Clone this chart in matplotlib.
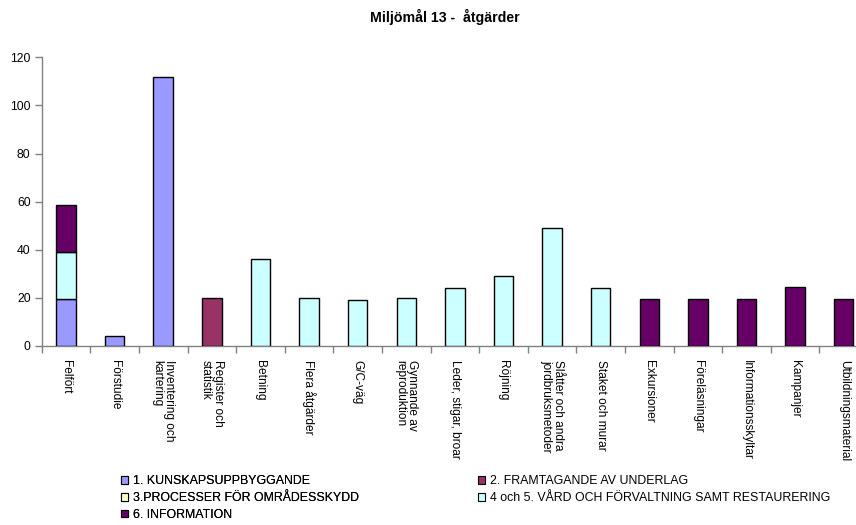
import matplotlib
matplotlib.use("Agg")
import matplotlib.pyplot as plt
from matplotlib.patches import Patch
import numpy as np

plt.rcParams['font.family'] = ['Liberation Sans', 'DejaVu Sans']

title = "Miljömål 13 -  åtgärder"

categories = [
    "Felfört", "Förstudie", "Inventering och\nkartering", "Register och\nstatistik",
    "Betning", "Flera åtgärder", "G/C-väg", "Gynnande av\nreproduktion",
    "Leder, stigar, broar", "Röjning", "Slåtter och andra\njordbruksmetoder",
    "Staket och murar", "Exkursioner", "Föreläsningar", "Informationsskyltar",
    "Kampanjer", "Utbildningsmaterial",
]

series_names = [
    "1. KUNSKAPSUPPBYGGANDE",
    "2. FRAMTAGANDE AV UNDERLAG",
    "3.PROCESSER FÖR OMRÅDESSKYDD",
    "4 och 5. VÅRD OCH FÖRVALTNING SAMT RESTAURERING",
    "6. INFORMATION",
]

kunskap   = [19.5, 4, 112, 0, 0, 0, 0, 0, 0, 0, 0, 0, 0, 0, 0, 0, 0]
underlag  = [0, 0, 0, 20, 0, 0, 0, 0, 0, 0, 0, 0, 0, 0, 0, 0, 0]
processer = [0, 0, 0, 0, 0, 0, 0, 0, 0, 0, 0, 0, 0, 0, 0, 0, 0]
vard      = [19.5, 0, 0, 0, 36, 20, 19, 20, 24, 29, 49, 24, 0, 0, 0, 0, 0]
info      = [19.5, 0, 0, 0, 0, 0, 0, 0, 0, 0, 0, 0, 19.5, 19.5, 19.5, 24.5, 19.5]

series_values = [kunskap, underlag, processer, vard, info]
colors = ["#9999FF", "#993366", "#FFFFCC", "#CCFFFF", "#660066"]

yticks = [0, 20, 40, 60, 80, 100, 120]

W, H = 856, 525
fig = plt.figure(figsize=(W / 100, H / 100), dpi=100)
ax_left, ax_right = 41.7, 868.0
ax_top, ax_bottom = 57.3, 346.0
ax = fig.add_axes([ax_left / W, 1 - ax_bottom / H,
                   (ax_right - ax_left) / W, (ax_bottom - ax_top) / H])

x = np.arange(len(categories))
bottom = np.zeros(len(categories))
for name, vals, col in zip(series_names, series_values, colors):
    v = np.array(vals, dtype=float)
    mask = v > 0
    ax.bar(x[mask], v[mask], width=0.4, bottom=bottom[mask], color=col,
           edgecolor="black", linewidth=1.0, zorder=3)
    bottom += v

ax.set_xlim(-0.5, len(categories) - 0.5)
ax.set_ylim(0, 120)
ax.set_yticks(yticks)
ax.set_yticklabels([str(t) for t in yticks], fontsize=8.8)

ax.set_xticks(x)
ax.set_xticklabels(categories, rotation=270, fontsize=8.6, va="top", ha="center",
                   multialignment="left", linespacing=1.0)
ax.set_xticks(np.arange(-0.5, len(categories), 1.0), minor=True)
ax.tick_params(axis="x", which="major", length=0, pad=10)
ax.tick_params(axis="x", which="minor", length=5, width=1, color="#808080", direction="out")
ax.tick_params(axis="y", length=5, width=1, color="#808080", direction="out", pad=3)

for s in ["top", "right"]:
    ax.spines[s].set_visible(False)
for s in ["left", "bottom"]:
    ax.spines[s].set_color("#808080")
    ax.spines[s].set_linewidth(1.0)

fig.text(444.5 / W, 1 - 17 / H, title, ha="center", va="center",
         fontsize=10.2, fontweight="bold")

handles = [Patch(facecolor=c, edgecolor="black", linewidth=0.8) for c in colors]
leg_kw = dict(frameon=False, fontsize=8.9, handlelength=0.6, handleheight=0.6,
              handletextpad=0.4, labelspacing=0.38, borderpad=0, borderaxespad=0,
              loc="upper left")
leg1 = fig.legend([handles[0], handles[2], handles[4]],
                  [series_names[0], series_names[2], series_names[4]],
                  bbox_to_anchor=(121 / W, 1 - 475.5 / H), **leg_kw)
fig.add_artist(leg1)
leg2 = fig.legend([handles[1], handles[3]],
                  [series_names[1], series_names[3]],
                  bbox_to_anchor=(478 / W, 1 - 475.5 / H), **leg_kw)

fig.savefig("out.png", dpi=100, facecolor="white")
